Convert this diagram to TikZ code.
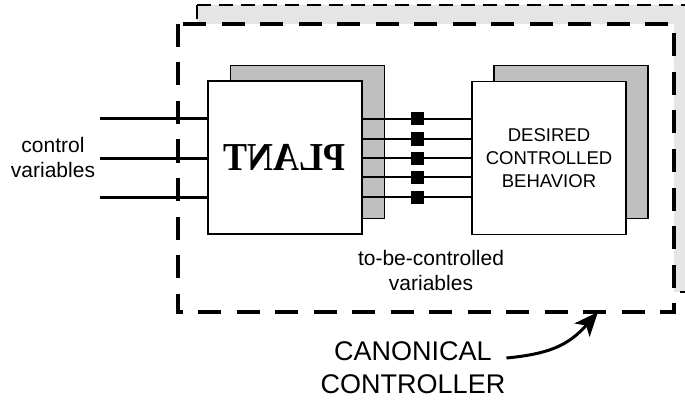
\documentclass[tikz,border=0pt]{standalone}
\usepackage{fontspec}
\setmainfont{Liberation Sans}
\newfontfamily\plantfont{Liberation Serif}
\usetikzlibrary{arrows.meta}

\begin{document}
\begin{tikzpicture}[x=1pt, y=-1pt,
   blk/.style={draw, line width=1.5pt, fill=white, minimum width=154pt, minimum height=153pt, inner sep=0pt},
   shd/.style={blk, fill=gray!50},
   wire/.style={line width=3pt},
   bus/.style={line width=2.4pt},
   dot/.style={fill=black, minimum size=13pt, inner sep=0pt},
   lbl/.style={align=center, font=\fontsize{21}{25}\selectfont}]
      \clip (0,0) rectangle (685,401);
      \filldraw[fill=gray!20, line width=1.3pt, dash pattern=on 14pt off 8pt] (197,5) rectangle (720,292);
      \filldraw[fill=white, line width=3.2pt, dash pattern=on 23pt off 15.5pt] (178,24) rectangle (674,312);
      \node[shd] (Ps) at (307.5,142) {};
      \node[shd] (Ds) at (571,142) {};
      % control inputs
      \foreach \y/\n in {119/1,158/2,197/3}
         \coordinate (u\n) at (100,\y);
      \node[blk] (P) at (285,157.5) {};
      \node[xscale=-1, yscale=1.1, font=\plantfont\bfseries\fontsize{36}{40}\selectfont] (Pt) at (284,157) {PLANT};
      \node[blk, align=center, font=\fontsize{18.5}{23}\selectfont] (D) at (549,158) {DESIRED\\CONTROLLED\\BEHAVIOR};
      \foreach \n in {1,2,3}
         \draw[wire] (u\n) -- (u\n -| P.west);
      \foreach \y in {119,139,158,177,197}
         \draw[bus] (P.east |- 0,\y) -- (D.west |- 0,\y) node[dot, midway] {};
      \node[lbl] (cv) at (53,157.5) {control\\variables};
      \node[lbl] (tbc) at (431,270) {to-be-controlled\\variables};
      \node[align=center, font=\fontsize{27}{33}\selectfont, inner sep=1pt] (C) at (413,367.5) {CANONICAL\\CONTROLLER};
      \coordinate (tip) at (598,312);
      \draw[line width=3pt, -{Stealth[length=24pt, width=20pt, inset=6pt]}] (C.east |- 0,358) .. controls (548,354) and (568,346) .. (tip);
   \end{tikzpicture}
\end{document}
